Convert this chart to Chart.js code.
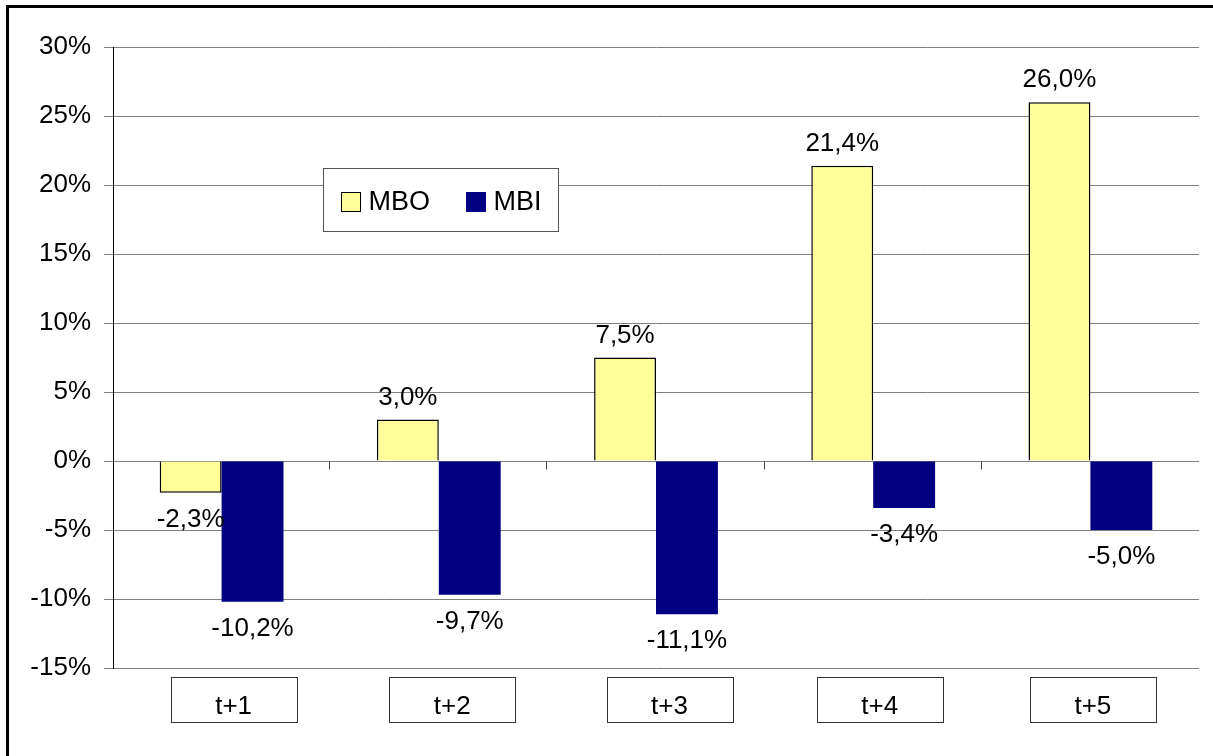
<!DOCTYPE html>
<html lang="de">

<head>
    <meta charset="UTF-8">
    <title>MBO vs MBI</title>
    <script src="https://cdn.jsdelivr.net/npm/chart.js"></script>
    <style>
        html, body { margin: 0; padding: 0; background: #fff; overflow: hidden; }
        #wrap { position: absolute; left: 0; top: 0; width: 1213px; height: 756px; }
        /* outer frame, only left and top edges are inside the picture */
        #frame {
            position: absolute; left: 6px; top: 5px; width: 1400px; height: 900px;
            border: 3px solid #000; pointer-events: none;
        }
    </style>
</head>

<body>
    <div id="wrap"><canvas id="barChart"></canvas></div>
    <div id="frame"></div>

    <script>
        // data
        const categories = ['t+1', 't+2', 't+3', 't+4', 't+5'];
        const seriesNames = ['MBO', 'MBI'];
        const mboValues = [-2.3, 3.0, 7.5, 21.4, 26.0];
        const mbiValues = [-10.2, -9.7, -11.1, -3.4, -5.0];
        const yTicks = [-15, -10, -5, 0, 5, 10, 15, 20, 25, 30];

        // the label boxes are not quite centred under their categories
        const boxShift = [12, 13.5, 13.5, 6.5, 2.5];

        const FONT = '"Liberation Sans", Arial, sans-serif';
        const fmt = v => v.toFixed(1).replace('.', ',') + '%';

        // value labels at the end of each bar
        const valueLabels = {
            id: 'valueLabels',
            afterDatasetsDraw(chart) {
                const ctx = chart.ctx;
                ctx.save();
                ctx.font = '26px ' + FONT;
                ctx.fillStyle = '#000';
                ctx.textAlign = 'center';
                ctx.textBaseline = 'alphabetic';
                chart.data.datasets.forEach((ds, i) => {
                    chart.getDatasetMeta(i).data.forEach((bar, j) => {
                        const v = ds.data[j];
                        const y = v >= 0 ? bar.y - 15 : bar.y + 34;
                        ctx.fillText(fmt(v), bar.x, y);
                    });
                });
                ctx.restore();
            }
        };

        // boxed category labels, tick marks on the zero line, legend box
        const extras = {
            id: 'extras',
            afterDraw(chart) {
                const ctx = chart.ctx;
                const xs = chart.scales.x;
                const ys = chart.scales.y;
                const area = chart.chartArea;
                const y0 = Math.round(ys.getPixelForValue(0)) + 0.5;
                ctx.save();

                // zero line ticks at category boundaries
                ctx.strokeStyle = '#444';
                ctx.lineWidth = 1;
                const step = (area.right - area.left) / categories.length;
                for (let k = 1; k < categories.length; k++) {
                    const x = Math.round(area.left + k * step) - 0.5;
                    ctx.beginPath();
                    ctx.moveTo(x, y0);
                    ctx.lineTo(x, y0 + 8);
                    ctx.stroke();
                }

                // category label boxes
                ctx.font = '26px ' + FONT;
                ctx.textAlign = 'center';
                ctx.textBaseline = 'alphabetic';
                categories.forEach((c, k) => {
                    const cx = xs.getPixelForTick(k) + boxShift[k];
                    const bx = Math.round(cx - 63) + 0.5;
                    const by = area.bottom + 9.5;
                    ctx.fillStyle = '#fff';
                    ctx.fillRect(bx, by, 126, 45);
                    ctx.strokeStyle = '#333';
                    ctx.strokeRect(bx, by, 126, 45);
                    ctx.fillStyle = '#000';
                    ctx.fillText(c, cx, by + 36);
                });

                // legend
                const lx = area.left + 210.5, ly = area.top + 121.5;
                ctx.fillStyle = '#fff';
                ctx.fillRect(lx, ly, 235, 63);
                ctx.strokeStyle = '#555';
                ctx.strokeRect(lx, ly, 235, 63);
                ctx.font = '27px ' + FONT;
                ctx.textAlign = 'left';
                ctx.textBaseline = 'middle';
                chart.data.datasets.forEach((ds, i) => {
                    const sx = lx + 18 + i * 125;
                    ctx.fillStyle = ds.backgroundColor;
                    ctx.fillRect(sx, ly + 24, 19, 19);
                    ctx.strokeStyle = i === 0 ? '#000' : ds.backgroundColor;
                    ctx.strokeRect(sx, ly + 24, 19, 19);
                    ctx.fillStyle = '#000';
                    ctx.fillText(ds.label, sx + 27, ly + 34);
                });
                ctx.restore();
            }
        };

        const ctx = document.getElementById('barChart').getContext('2d');
        new Chart(ctx, {
            type: 'bar',
            data: {
                labels: categories,
                datasets: [{
                    label: seriesNames[0],
                    data: mboValues,
                    backgroundColor: '#FFFF99',
                    borderColor: '#000',
                    borderWidth: 1.5
                }, {
                    label: seriesNames[1],
                    data: mbiValues,
                    backgroundColor: '#000080',
                    borderColor: '#000080',
                    borderWidth: 0
                }]
            },
            options: {
                responsive: true,
                maintainAspectRatio: false,
                animation: false,
                layout: { padding: { top: 47, right: 14, left: 0, bottom: 0 } },
                datasets: { bar: { categoryPercentage: 0.57, barPercentage: 1.0 } },
                plugins: {
                    legend: { display: false },
                    tooltip: { enabled: false }
                },
                scales: {
                    x: {
                        grid: { display: false },
                        border: { display: false },
                        ticks: { display: false },
                        afterFit(scale) { scale.height = 88; }
                    },
                    y: {
                        min: -15,
                        max: 30,
                        afterBuildTicks(scale) {
                            scale.ticks = yTicks.map(v => ({ value: v }));
                        },
                        afterFit(scale) { scale.width = 113; },
                        grid: {
                            color: '#808080',
                            lineWidth: 1,
                            tickLength: 9,
                            drawTicks: true
                        },
                        border: { display: true, color: '#000', width: 1 },
                        ticks: {
                            padding: 13,
                            color: '#000',
                            font: { family: FONT, size: 26 },
                            callback: v => v + '%'
                        }
                    }
                }
            },
            plugins: [valueLabels, extras]
        });
    </script>
</body>

</html>
